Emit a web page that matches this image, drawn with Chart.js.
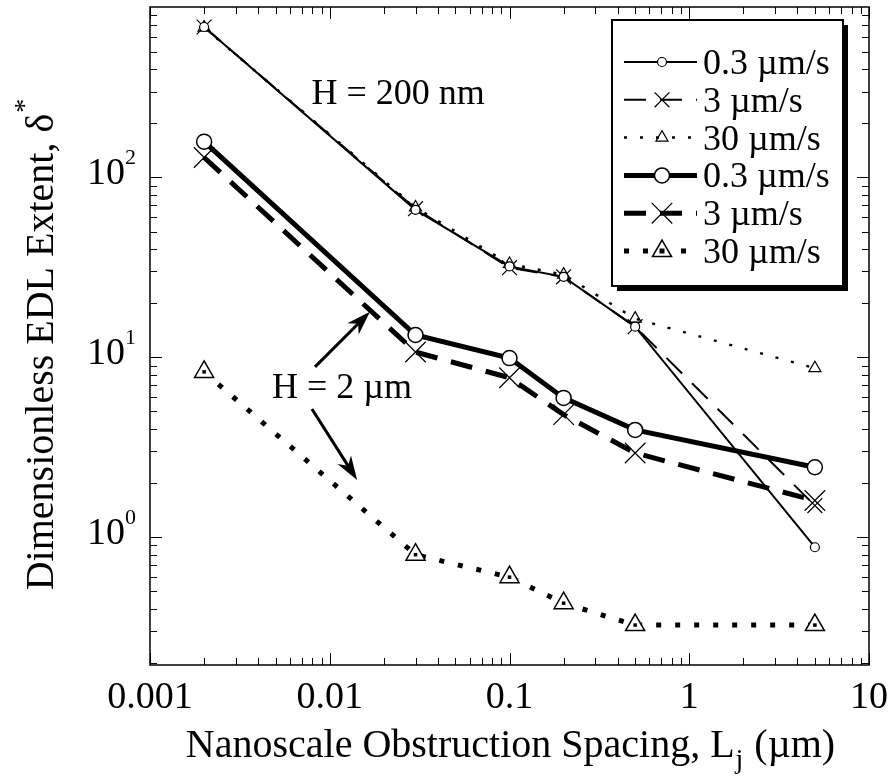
<!DOCTYPE html>
<html>
<head>
<meta charset="utf-8">
<script src="https://cdn.jsdelivr.net/npm/chart.js@4.4.0/dist/chart.umd.min.js"></script>
<style>
  html, body { margin: 0; padding: 0; background: #fff; }
  #wrap { width: 895px; height: 779px; }
</style>
</head>
<body>
<div id="wrap"><canvas id="chart"></canvas></div>
<script>
// obstruction spacing L_j (um)
const spacing = [0.002, 0.03, 0.1, 0.2, 0.5, 5];
// H = 200 nm
const h200_v03 = [685, 66, 32, 28, 14.8, 0.88];
const h200_v3 = [685, 67, 31.5, 28, 14.8, 1.5];
const h200_v30 = [680, 68, 33, 28.8, 16.4, 8.7];
// H = 2 um
const h2_v03 = [158, 13.3, 9.9, 5.95, 3.95, 2.45];
const h2_v3 = [129, 10.7, 7.7, 4.8, 2.94, 1.6];
const h2_v30 = [8.3, 0.80, 0.60, 0.43, 0.325, 0.325];

const seriesLabels = ['0.3 µm/s', '3 µm/s', '30 µm/s', '0.3 µm/s', '3 µm/s', '30 µm/s'];
const xTickValues = [0.001, 0.01, 0.1, 1, 10];
const xTickLabels = ['0.001', '0.01', '0.1', '1', '10'];
const yTickValues = [1, 10, 100];
const yTickExponents = ['0', '1', '2'];

const SERIF = "'Liberation Serif', 'Times New Roman', serif";

const pts = vals => vals.map((v, i) => ({ x: spacing[i], y: v }));

const lineDs = (label, vals, o) => Object.assign({
  label,
  data: pts(vals),
  borderColor: '#000',
  backgroundColor: '#fff',
  pointBorderColor: '#000',
  pointBackgroundColor: '#fff',
  tension: 0,
  fill: false,
  borderCapStyle: 'butt'
}, o);

const datasets = [
  // little filled squares sitting inside the big triangles
  { label: '', data: pts(h2_v30), showLine: false, pointStyle: 'rect', pointRadius: 2.5,
    pointBackgroundColor: '#000', pointBorderWidth: 0, legendSkip: true },
  lineDs(seriesLabels[0], h200_v03, { borderWidth: 2, pointStyle: 'circle', pointRadius: 4.5, pointBorderWidth: 1.2 }),
  lineDs(seriesLabels[1], h200_v3, { borderWidth: 2, borderDash: [22, 14], pointStyle: 'crossRot', pointRadius: 10.5, pointBorderWidth: 1.2, pointBackgroundColor: 'rgba(0,0,0,0)' }),
  lineDs(seriesLabels[2], h200_v30, { borderWidth: 2.5, borderDash: [3, 13], pointStyle: 'triangle', pointRadius: 7, pointBorderWidth: 1.2, pointBackgroundColor: 'rgba(255,255,255,0)' }),
  lineDs(seriesLabels[3], h2_v03, { borderWidth: 5, pointStyle: 'circle', pointRadius: 7.5, pointBorderWidth: 1.5 }),
  lineDs(seriesLabels[4], h2_v3, { borderWidth: 5, borderDash: [22, 14], pointStyle: 'crossRot', pointRadius: 14.5, pointBorderWidth: 1.2, pointBackgroundColor: 'rgba(0,0,0,0)' }),
  lineDs(seriesLabels[5], h2_v30, { borderWidth: 5, borderDash: [5, 14], pointStyle: 'triangle', pointRadius: 11, pointBorderWidth: 1.5 })
];

const notes = [
  { text: 'H = 200 nm', x: 0.024, y: 255 },
  { text: 'H = 2 µm', x: 0.0117, y: 5.94 }
];
const arrows = [
  { from: [0.00828, 8.85], to: [0.01675, 17.9] },
  { from: [0.00796, 5.16], to: [0.0142, 2.08] }
];

function drawArrow(ctx, x0, y0, x1, y1) {
  const ang = Math.atan2(y1 - y0, x1 - x0);
  const len = 24, half = 8;
  const bx = x1 - Math.cos(ang) * len, by = y1 - Math.sin(ang) * len;
  const nx = x1 - Math.cos(ang) * len * 0.7, ny = y1 - Math.sin(ang) * len * 0.7;
  ctx.lineWidth = 3;
  ctx.beginPath();
  ctx.moveTo(x0, y0);
  ctx.lineTo(nx, ny);
  ctx.stroke();
  ctx.beginPath();
  ctx.moveTo(x1, y1);
  ctx.lineTo(bx - Math.sin(ang) * half, by + Math.cos(ang) * half);
  ctx.lineTo(nx, ny);
  ctx.lineTo(bx + Math.sin(ang) * half, by - Math.cos(ang) * half);
  ctx.closePath();
  ctx.fill();
}

const decor = {
  id: 'decor',
  afterDraw(chart) {
    const { ctx, chartArea: a, scales: { x, y } } = chart;
    ctx.save();
    ctx.strokeStyle = '#000';
    ctx.fillStyle = '#000';
    ctx.setLineDash([]);

    // frame
    ctx.lineWidth = 1.5;
    ctx.strokeRect(a.left, a.top, a.right - a.left, a.bottom - a.top);

    // inward ticks on all four sides
    ctx.lineWidth = 1;
    ctx.beginPath();
    for (let n = -3; n <= 1; n++) {
      for (let m = 1; m <= 9; m++) {
        const v = m * Math.pow(10, n);
        if (v < x.min * 0.999 || v > x.max * 1.001) continue;
        const px = Math.round(x.getPixelForValue(v)) + 0.5;
        const len = m === 1 ? 12 : 7;
        ctx.moveTo(px, a.bottom); ctx.lineTo(px, a.bottom - len);
        ctx.moveTo(px, a.top); ctx.lineTo(px, a.top + len);
      }
    }
    for (let n = -1; n <= 2; n++) {
      for (let m = 1; m <= 9; m++) {
        const v = m * Math.pow(10, n);
        if (v < y.min * 0.999 || v > y.max * 1.001) continue;
        const py = Math.round(y.getPixelForValue(v)) + 0.5;
        const len = m === 1 ? 12 : 7;
        ctx.moveTo(a.left, py); ctx.lineTo(a.left + len, py);
        ctx.moveTo(a.right, py); ctx.lineTo(a.right - len, py);
      }
    }
    ctx.stroke();

    // tick labels
    ctx.font = '38px ' + SERIF;
    ctx.textAlign = 'center';
    ctx.textBaseline = 'alphabetic';
    xTickValues.forEach((v, i) => {
      ctx.fillText(xTickLabels[i], x.getPixelForValue(v), a.bottom + 43);
    });
    yTickValues.forEach((v, i) => {
      const py = y.getPixelForValue(v);
      ctx.font = '38px ' + SERIF;
      ctx.textAlign = 'right';
      ctx.fillText('10', a.left - 25, py + 7);
      ctx.font = '22px ' + SERIF;
      ctx.textAlign = 'left';
      ctx.fillText(yTickExponents[i], a.left - 25, py - 13);
    });

    // x title with subscript j
    const p1 = 'Nanoscale Obstruction Spacing, L', p3 = ' (µm)';
    ctx.font = '40px ' + SERIF;
    const w1 = ctx.measureText(p1).width, w3 = ctx.measureText(p3).width;
    ctx.font = '28px ' + SERIF;
    const w2 = ctx.measureText('j').width;
    let tx = (a.left + a.right) / 2 - (w1 + w2 + w3) / 2;
    const tb = 757;
    ctx.textAlign = 'left';
    ctx.font = '40px ' + SERIF;
    ctx.fillText(p1, tx, tb);
    ctx.font = '28px ' + SERIF;
    ctx.fillText('j', tx + w1 + 1, tb + 11);
    ctx.font = '40px ' + SERIF;
    ctx.fillText(p3, tx + w1 + w2 + 2, tb);

    // y title with superscript *
    ctx.save();
    ctx.translate(53, 345);
    ctx.rotate(-Math.PI / 2);
    const q1 = 'Dimensionless EDL Extent, δ';
    ctx.font = '40px ' + SERIF;
    const wq = ctx.measureText(q1).width;
    ctx.font = '28px ' + SERIF;
    const wa = ctx.measureText('*').width;
    const sx = -(wq + wa) / 2;
    ctx.font = '40px ' + SERIF;
    ctx.fillText(q1, sx, 0);
    ctx.font = '28px ' + SERIF;
    ctx.fillText('*', sx + wq + 1, -20);
    ctx.restore();

    // annotations
    ctx.font = '36px ' + SERIF;
    ctx.textAlign = 'center';
    notes.forEach(nt => ctx.fillText(nt.text, x.getPixelForValue(nt.x), y.getPixelForValue(nt.y)));
    arrows.forEach(ar => drawArrow(ctx,
      x.getPixelForValue(ar.from[0]), y.getPixelForValue(ar.from[1]),
      x.getPixelForValue(ar.to[0]), y.getPixelForValue(ar.to[1])));

    // legend box with drop shadow
    const lx = 612, ly = 20, lw = 231, lh = 266;
    ctx.fillStyle = '#000';
    ctx.fillRect(lx + 5, ly + 5, lw, lh);
    ctx.fillStyle = '#fff';
    ctx.fillRect(lx, ly, lw, lh);
    ctx.lineWidth = 2;
    ctx.strokeRect(lx, ly, lw, lh);

    const rows = chart.data.datasets.filter(d => !d.legendSkip);
    rows.forEach((d, i) => {
      const ry = 62 + i * 37.8;
      ctx.setLineDash(d.borderDash || []);
      ctx.lineWidth = d.borderWidth;
      ctx.strokeStyle = '#000';
      ctx.beginPath();
      ctx.moveTo(624, ry);
      ctx.lineTo(697, ry);
      ctx.stroke();
      ctx.setLineDash([]);
      ctx.lineWidth = d.pointBorderWidth;
      ctx.fillStyle = d.pointBackgroundColor;
      Chart.helpers.drawPoint(ctx, { pointStyle: d.pointStyle, radius: d.pointRadius, rotation: 0, borderWidth: d.pointBorderWidth }, 662, ry);
      if (d.pointStyle === 'triangle' && d.borderWidth >= 5) {
        ctx.fillStyle = '#000';
        ctx.fillRect(659.5, ry - 2.5, 5, 5);
      }
      ctx.fillStyle = '#000';
      ctx.font = '36px ' + SERIF;
      ctx.textAlign = 'left';
      ctx.fillText(d.label, 703, ry + 12);
    });
    ctx.restore();
  }
};

new Chart(document.getElementById('chart'), {
  type: 'line',
  data: { datasets },
  options: {
    responsive: true,
    maintainAspectRatio: false,
    animation: false,
    layout: { autoPadding: false, padding: { top: 7, right: 26, left: 0, bottom: 0 } },
    plugins: { legend: { display: false }, tooltip: { enabled: false } },
    scales: {
      x: {
        type: 'logarithmic', min: 0.001, max: 10,
        ticks: { display: false }, grid: { display: false }, border: { display: false },
        afterFit: s => { s.height = 114; }
      },
      y: {
        type: 'logarithmic', min: 0.195, max: 885,
        ticks: { display: false }, grid: { display: false }, border: { display: false },
        afterFit: s => { s.width = 150; }
      }
    }
  },
  plugins: [decor]
});
</script>
</body>
</html>
